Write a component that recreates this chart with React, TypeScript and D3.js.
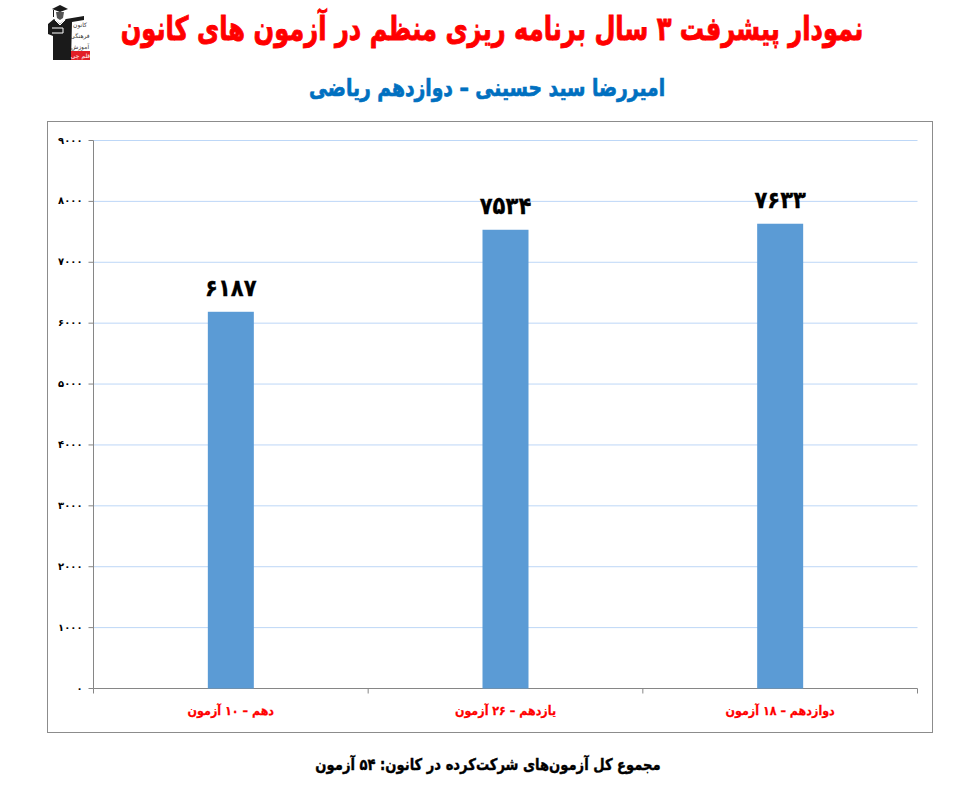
import * as d3 from "d3";
import type { ReactNode } from "react";

const categories = ["دهم – ۱۰ آزمون", "یازدهم – ۲۶ آزمون", "دوازدهم – ۱۸ آزمون"];
const values = [6187, 7534, 7633];
const tickValues = [0, 1000, 2000, 3000, 4000, 5000, 6000, 7000, 8000, 9000];
const logoLines = ["کانون", "فرهنگی", "آموزش"];

const width = 967;
const height = 798;
const plot = { left: 93.5, right: 917.5, top: 140.5, bottom: 688.5 };

const fa = (n: number) => String(n).replace(/\d/g, (d) => "۰۱۲۳۴۵۶۷۸۹"[+d]);
const font = "'DejaVu Sans', 'Noto Sans', sans-serif";

// the reference font is narrower than DejaVu, so squeeze the text horizontally
type LabelProps = { x: number; y: number; size: number; squeeze: number; fill: string; heavy?: number; children: ReactNode };
const Label = ({ x, y, size, squeeze, fill, heavy = 0, children }: LabelProps) => (
  <text
    transform={`translate(${x}, ${y}) scale(${squeeze}, 1)`}
    textAnchor="middle"
    direction="rtl"
    fontSize={size}
    fontWeight="bold"
    fill={fill}
    stroke={heavy ? fill : "none"}
    strokeWidth={heavy}
  >
    {children}
  </text>
);

const Logo = () => (
  <g>
    <path d="M52 9 L60 5 L68 9 L60 12 Z M53 10 L53 17 L54 17 L54 10 Z" fill="#1a1a1a" />
    <path d="M56 12 L64 12 L63 18 L60 20 L57 18 Z" fill="#555" />
    <path d="M48 24 L54 19 L60 24 L66 19 L84 16 L84 20 L72 22 L71 60 L53 60 L53 36 L48 34 Z" fill="#1a1a1a" />
    <path d="M55 20 L60 25 L65 20" fill="none" stroke="#fff" strokeWidth={1} />
    <path d="M52 28 L63 28 L63 33 L52 33" fill="none" stroke="#fff" strokeWidth={1} />
    {logoLines.map((t, i) => (
      <text key={t} x={80} y={27 + i * 11} textAnchor="middle" direction="rtl" fontSize={6} fill="#333">
        {t}
      </text>
    ))}
    <rect x={71} y={51} width={19} height={9} fill="#e21e26" />
    <text x={80.5} y={58} textAnchor="middle" direction="rtl" fontSize={6} fill="#fff">
      قلم چی
    </text>
  </g>
);

export default function App() {
  const x = d3.scaleBand().domain(categories).range([plot.left, plot.right]).padding(0);
  const y = d3.scaleLinear().domain([0, 9000]).range([plot.bottom, plot.top]);
  const barWidth = 46;

  return (
    <svg width={width} height={height} viewBox={`0 0 ${width} ${height}`} style={{ position: "absolute", left: 0, top: 0, background: "#fff" }} fontFamily={font}>
      <Label x={492} y={40} size={33} squeeze={0.733} fill="#ff0000" heavy={0.9}>
        نمودار پیشرفت ۳ سال برنامه ریزی منظم در آزمون های کانون
      </Label>
      <Label x={487} y={96} size={24} squeeze={0.78} fill="#0070c0" heavy={0.7}>
        امیررضا سید حسینی – دوازدهم ریاضی
      </Label>

      <Logo />

      <rect x={47.5} y={121.5} width={885} height={611} fill="#fff" stroke="#8c8c8c" />

      {tickValues.map((t) => (
        <g key={t}>
          {t > 0 && <line x1={plot.left} x2={plot.right} y1={y(t)} y2={y(t)} stroke="#bdd7f7" />}
          <line x1={plot.left - 5} x2={plot.left} y1={y(t)} y2={y(t)} stroke="#868686" />
          <text x={plot.left - 11} y={y(t) + 3} textAnchor="end" fontSize={10} fontWeight="bold" fill="#000">
            {fa(t)}
          </text>
        </g>
      ))}

      <line x1={plot.left} x2={plot.left} y1={plot.top} y2={plot.bottom} stroke="#868686" />
      <line x1={plot.left} x2={plot.right} y1={plot.bottom} y2={plot.bottom} stroke="#868686" />
      {[0, 1, 2, 3].map((i) => {
        const px = plot.left + i * x.step();
        return <line key={i} x1={px} x2={px} y1={plot.bottom} y2={plot.bottom + 5} stroke="#868686" />;
      })}

      {categories.map((c, i) => {
        const cx = (x(c) ?? 0) + x.bandwidth() / 2;
        return (
          <g key={c}>
            <rect x={cx - barWidth / 2} y={y(values[i])} width={barWidth} height={plot.bottom - y(values[i])} fill="#5b9bd5" />
            <Label x={cx} y={y(values[i]) - 16} size={24} squeeze={0.88} fill="#000" heavy={0.3}>
              {fa(values[i])}
            </Label>
            <Label x={cx} y={715} size={12.5} squeeze={0.89} fill="#ff0000" heavy={0.25}>
              {c}
            </Label>
          </g>
        );
      })}

      <Label x={488} y={770} size={16} squeeze={0.82} fill="#000" heavy={0.4}>
        مجموع کل آزمون‌های شرکت‌کرده در کانون:  ۵۴ آزمون
      </Label>
    </svg>
  );
}
